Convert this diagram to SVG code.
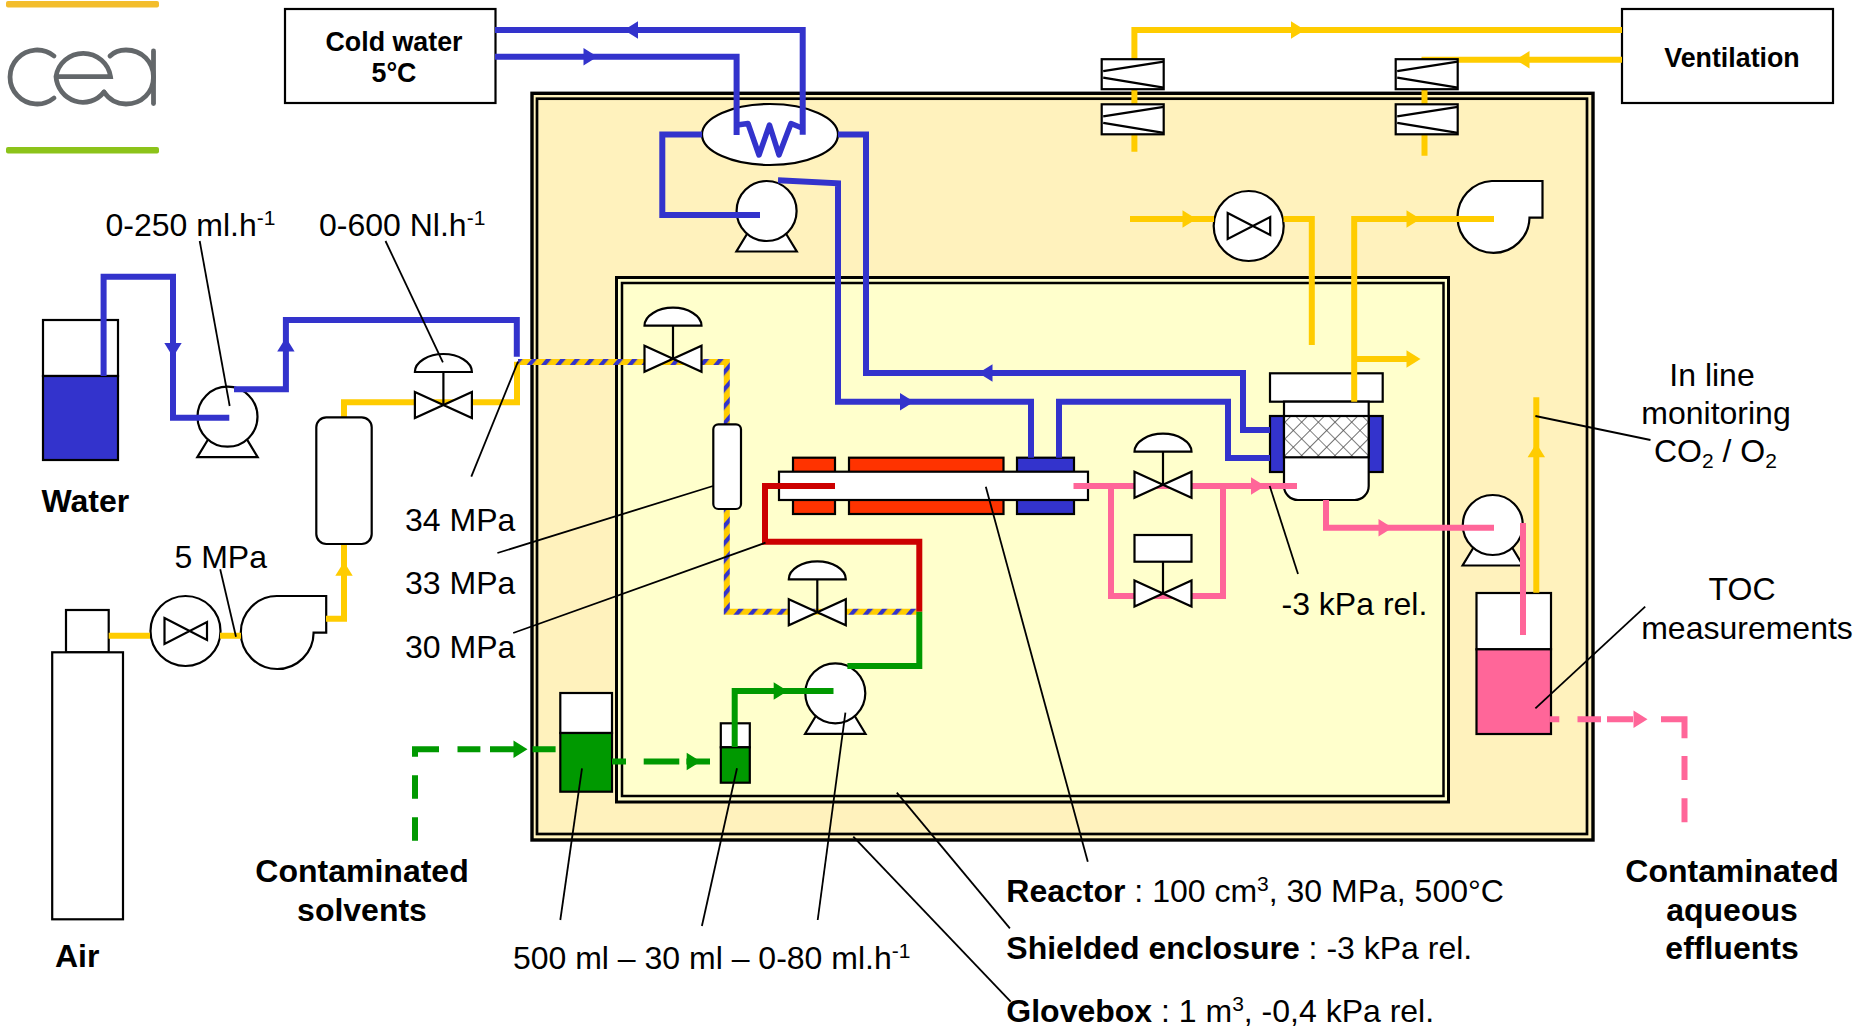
<svg xmlns="http://www.w3.org/2000/svg" width="1862" height="1027" viewBox="0 0 1862 1027">
<style>
.s{fill:#fff;stroke:#000;stroke-width:2.2;stroke-linejoin:miter}
.n{fill:none;stroke:#000;stroke-width:2.2}
.p{fill:none;stroke-width:6;stroke-linejoin:miter;stroke-linecap:butt}
.w{stroke-linejoin:round;stroke-linecap:round;stroke-width:5.500}
.bl{stroke:#33c}.ye{stroke:#fc0}.pk{stroke:#f69}.rd{stroke:#c00}.gr{stroke:#090}
.fb{fill:#33c}.fy{fill:#fc0}.fp{fill:#f69}.fg{fill:#090}.fo{fill:#f30}
.l{stroke:#000;stroke-width:1.8;fill:none}
text{font-family:"Liberation Sans",Arial,sans-serif;font-size:32px;fill:#000}
.b{font-weight:700}
.m{text-anchor:middle}
.bx{font-size:26.800px;font-weight:700;text-anchor:middle}
.u{font-size:21px}
</style>
<defs>
<pattern id="stripe" width="11" height="11" patternUnits="userSpaceOnUse" patternTransform="rotate(40)"><rect width="11" height="11" fill="#fc0"/><rect width="4.200" height="11" fill="#33c"/></pattern>
<pattern id="hatch" width="11.800" height="11.800" patternUnits="userSpaceOnUse" patternTransform="rotate(45) translate(3 3)"><rect width="11.800" height="11.800" fill="#fff"/><path d="M0 0H11.800M0 0V11.800" stroke="#555" stroke-width="1.700" fill="none"/></pattern>
<polygon id="arr" points="-7,-8.7 7,0 -7,8.7"/>
<g id="pump"><polygon class="s" points="-19,22 -30.2,40.5 30.2,40.5 19,22"/><ellipse class="s" cx="0" cy="0" rx="30" ry="30"/></g>
<g id="valve"><polygon class="s" points="-28.5,-13 28.5,13 28.5,-13 -28.5,13"/></g>
<g id="dome"><path class="s" d="M-28.5,-33H28.5C28.5,-43 15,-51 0,-51C-15,-51 -28.5,-43 -28.5,-33Z"/><path class="n" d="M0,-33V0"/></g>
<g id="filter"><rect class="s" x="-31" y="-15" width="62" height="30"/><path class="n" d="M-29.5,-3 L31,-12.5 M-29.5,3.5 L31,13.5"/></g>
<g id="ball"><ellipse class="s" cx="0" cy="0" rx="35" ry="35"/><path class="n" d="M-21,-13 L21.500,9 V-9 L-21,13Z"/></g>
</defs>

<g id="logo">
<rect x="6" y="1" width="153" height="6.500" rx="2" fill="#f3bd2c"/>
<rect x="6" y="147" width="153" height="6.500" rx="2" fill="#8cc31a"/>
<g fill="none" stroke="#63676a" stroke-width="4.800" stroke-linecap="round">
<path d="M54,56 A27,27 0 1 0 54,98"/>
<path d="M56,76.700 H110.500 A27.500,27 0 0 0 56,76.700 A27,27.500 0 0 0 104,92"/>
<path d="M104,92 A27,27 0 0 0 126,104 C142,104 153.500,92 153.500,77 C153.500,62 142,50 126,50 C120,50 114,52 110,56"/>
<path d="M153.500,51 V103.500"/>
</g>
</g>

<g id="glovebox">
<rect x="532" y="93.300" width="1061" height="746.700" fill="#fff2bd" stroke="#000" stroke-width="3.400"/>
<rect x="537" y="98.700" width="1050" height="735.300" fill="#fff2bd" stroke="#000" stroke-width="2.700"/>
</g>
<g id="enclosure">
<rect x="616.500" y="277.500" width="832" height="524.500" fill="#ffffcc" stroke="#000" stroke-width="3"/>
<rect x="622" y="283" width="821.500" height="513" fill="#ffffcc" stroke="#000" stroke-width="2.500"/>
</g>

<g id="cold-water"><rect class="s" x="285" y="9" width="210.500" height="94"/><text class="bx" x="394" y="50.500">Cold water</text><text class="bx" x="394" y="82">5°C</text></g>
<g id="ventilation"><rect class="s" x="1622" y="9" width="211" height="94"/><text class="bx" x="1732" y="66.500">Ventilation</text></g>

<g id="water-tank"><rect class="s" x="43" y="320" width="75" height="56"/><rect x="43" y="376" width="75" height="84" class="fb" stroke="#000" stroke-width="2.200"/></g>
<g id="air-cylinder"><rect class="s" x="66" y="610" width="42.700" height="42.300"/><rect class="s" x="52.200" y="652.300" width="70.800" height="267"/></g>
<g id="solvent-tank"><rect class="s" x="560.300" y="693" width="51.700" height="40"/><rect x="560.300" y="733" width="51.700" height="58.700" class="fg" stroke="#000" stroke-width="2.200"/></g>
<g id="solvent-tank-small"><rect class="s" x="720.800" y="723.300" width="29" height="24"/><rect x="720.800" y="747.300" width="29" height="35.400" class="fg" stroke="#000" stroke-width="2.200"/></g>
<g id="effluent-tank"><rect class="s" x="1476.500" y="593" width="74.500" height="56.300"/><rect x="1476.500" y="649.300" width="74.500" height="84.700" class="fp" stroke="#000" stroke-width="2.200"/></g>

<g id="pump-water"><use href="#pump" x="227.500" y="416.700"/></g>
<g id="pump-cooling"><use href="#pump" x="766.600" y="211"/></g>
<g id="pump-solvent"><use href="#pump" x="835.300" y="693.300"/></g>
<g id="pump-effluent"><use href="#pump" x="1492.800" y="525"/></g>
<g id="heat-exchanger"><ellipse class="s" cx="770" cy="134.500" rx="68" ry="30.500"/></g>
<g id="compressor"><path class="s" d="M276.800,596H326.200V632.700H313.600A36.400,36.500 0 1 1 276.800,596Z"/></g>
<g id="fan"><path class="s" d="M1491.800,181H1542.500V217.700H1529.500A36,36 0 1 1 1491.800,181Z"/></g>
<g id="air-meter"><use href="#ball" x="185.500" y="631"/></g>
<g id="vent-meter"><use href="#ball" x="1248.700" y="226"/></g>

<g id="reactor">
<rect x="793" y="457.700" width="42" height="56.300" class="fo" stroke="#000" stroke-width="2.200"/>
<rect x="849" y="457.700" width="154.500" height="56.300" class="fo" stroke="#000" stroke-width="2.200"/>
<rect x="1017" y="457.700" width="57" height="56.300" class="fb" stroke="#000" stroke-width="2.200"/>
<rect class="s" x="779" y="471.700" width="309" height="28.300"/>
</g>
<g id="separator">
<rect x="1270" y="416" width="112.700" height="56" class="fb" stroke="#000" stroke-width="2.200"/>
<rect class="s" x="1270" y="373.300" width="112.700" height="28.400"/>
<path class="s" d="M1284,401.700H1368.700V486A14,14 0 0 1 1354.700,500H1298A14,14 0 0 1 1284,486Z"/>
<rect x="1284" y="416" width="84.700" height="41.300" fill="url(#hatch)" stroke="#000" stroke-width="2.200"/>
</g>

<g id="connectors">
<path class="p bl" d="M103.600,376V276.700H173V417.700H229.300"/>
<path class="p bl" d="M234,389.300H285.900V320H516.800V356.700"/>
<path class="p bl" d="M495,30H802.700V134.700"/>
<path class="p bl" d="M495,56.700H736.600V135"/>
<path class="p bl w" d="M737,125L748,123.500L759,155L769.500,125L779,155L791,123.500L802,128"/>
<path class="p bl" d="M702,134.500H662.300V215H760"/>
<path class="p bl" d="M778,180.300L838,183.300V401.700H1031V457.700"/>
<path class="p bl" d="M838,134.500H866V373H1243V430H1270"/>
<path class="p bl" d="M1059,457.700V401.700H1228V458H1270"/>
<path class="p ye" d="M517,361.700V402.300H344V417.300"/>
<path class="p ye" d="M108.700,635.700H150M220,635.700H241"/>
<path class="p ye" d="M326,618.700H344V544"/>
<path class="p" stroke="url(#stripe)" d="M518,362H726.800V611.700H916.600"/>
<path class="p rd" d="M835,486H765V541.700H919.300V611.700"/>
<path class="p gr" d="M847.400,666H919.300V611.700"/>
<path class="p gr" d="M734.700,747V691H833.500"/>
<path class="p gr" d="M415,840.700V817.300M415,798.700V775.300M415,756.700V749.300H439M457.500,749.300H480.400M490,749.300H514M532.600,749.300H555.600"/>
<path class="p gr" d="M612,761.500H626M643.700,761.500H679.300M686.400,761.500H710"/>
<path class="p pk" d="M1073.500,486H1297"/>
<path class="p pk" d="M1111,486V596H1223V486"/>
<path class="p pk" d="M1326,500V527.700H1494"/>
<path class="p pk" d="M1523,523V635"/>
<path class="p pk" d="M1549.500,719.300H1559.300M1577.500,719.300H1601M1607,719.300H1633M1661,719.300H1684.500V738.300M1684.500,756V780M1684.500,798.300V822.300"/>
<path class="p ye" d="M1622,30H1134.400V151.700"/>
<path class="p ye" d="M1622,59.700H1424.500V155.700"/>
<path class="p ye" d="M1130,219H1214M1283.500,219H1311.800V345"/>
<path class="p ye" d="M1354.200,401.700V219H1494"/>
<path class="p ye" d="M1354,359H1407"/>
<path class="p ye" d="M1536.300,397.300V592.700"/>
<use href="#arr" class="fb" transform="translate(631,30) rotate(180)"/>
<use href="#arr" class="fb" transform="translate(590.500,56.700)"/>
<use href="#arr" class="fb" transform="translate(173,350) rotate(90)"/>
<use href="#arr" class="fb" transform="translate(285.900,344.500) rotate(-90)"/>
<use href="#arr" class="fb" transform="translate(907,401.700)"/>
<use href="#arr" class="fb" transform="translate(985.500,373) rotate(180)"/>
<use href="#arr" class="fy" transform="translate(344,568.700) rotate(-90)"/>
<use href="#arr" class="fy" transform="translate(1298,30)"/>
<use href="#arr" class="fy" transform="translate(1522.500,59.700) rotate(180)"/>
<use href="#arr" class="fy" transform="translate(1189.500,219)"/>
<use href="#arr" class="fy" transform="translate(1413.500,219)"/>
<use href="#arr" class="fy" transform="translate(1413.500,359)"/>
<use href="#arr" class="fy" transform="translate(1536.300,450.300) rotate(-90)"/>
<use href="#arr" class="fp" transform="translate(1258,486)"/>
<use href="#arr" class="fp" transform="translate(1385.500,527.700)"/>
<use href="#arr" class="fp" transform="translate(1640.500,719.300)"/>
<use href="#arr" class="fg" transform="translate(520.500,749.300)"/>
<use href="#arr" class="fg" transform="translate(693.700,761.500)"/>
<use href="#arr" class="fg" transform="translate(780.700,691)"/>
</g>

<g id="air-vessel"><rect class="s" x="316.300" y="417.300" width="55.400" height="126.700" rx="10"/></g>
<g id="mix-vessel"><rect class="s" x="713.300" y="424.300" width="27.700" height="84.700" rx="5"/></g>
<g id="valve-air"><use href="#valve" x="443.400" y="405"/><use href="#dome" x="443.400" y="405"/></g>
<g id="valve-mix-top"><use href="#valve" x="673" y="358.700"/><use href="#dome" x="673" y="358.700"/></g>
<g id="valve-mix-bottom"><use href="#valve" x="817.300" y="612.300"/><use href="#dome" x="817.300" y="612.300"/></g>
<g id="valve-outlet"><use href="#valve" x="1163" y="484.700"/><use href="#dome" x="1163" y="484.700"/></g>
<g id="valve-bypass"><use href="#valve" x="1163" y="593.500"/><path class="n" d="M1163,561V593"/><rect class="s" x="1134.500" y="535" width="57" height="26.700"/></g>
<g id="filter-1"><use href="#filter" x="1132.700" y="74.200"/></g>
<g id="filter-2"><use href="#filter" x="1132.700" y="119.300"/></g>
<g id="filter-3"><use href="#filter" x="1426.700" y="74.200"/></g>
<g id="filter-4"><use href="#filter" x="1426.700" y="119.300"/></g>

<g id="leaders">
<path class="l" d="M199.700,241L229.700,406"/>
<path class="l" d="M385.500,241L442.900,362.300"/>
<path class="l" d="M518,361.700L471.300,476.700"/>
<path class="l" d="M497.400,553L713,486"/>
<path class="l" d="M513.200,633L765.500,542.700"/>
<path class="l" d="M220.200,569.300L236,636.700"/>
<path class="l" d="M560.300,920L582,768.300"/>
<path class="l" d="M701.900,926L737,768.300"/>
<path class="l" d="M817.700,920L845.400,712.700"/>
<path class="l" d="M985.800,486.700L1087.800,861.700"/>
<path class="l" d="M896.800,792.700L1009.900,928.300"/>
<path class="l" d="M853.300,836.700L1010.700,1001.700"/>
<path class="l" d="M1269.700,486L1298,574"/>
<path class="l" d="M1535.400,416L1650.500,440"/>
<path class="l" d="M1535.400,708.300L1645.200,606.700"/>
</g>

<g id="labels">
<text x="105.500" y="235.500">0-250 ml.h<tspan class="u" dy="-11">-1</tspan></text>
<text x="319" y="235.500">0-600 Nl.h<tspan class="u" dy="-11">-1</tspan></text>
<text class="b" x="41.500" y="511.500">Water</text>
<text x="405" y="530.500">34 MPa</text>
<text x="405" y="593.500">33 MPa</text>
<text x="405" y="657.500">30 MPa</text>
<text x="174.500" y="568">5 MPa</text>
<text class="b" x="55" y="966.500">Air</text>
<text class="b m" x="362" y="882">Contaminated</text>
<text class="b m" x="362" y="921">solvents</text>
<text x="512.900" y="968.500">500 ml – 30 ml – 0-80 ml.h<tspan class="u" dy="-11">-1</tspan></text>
<text x="1006.300" y="901.500"><tspan class="b">Reactor</tspan> : 100 cm<tspan class="u" dy="-11">3</tspan><tspan dy="11">, 30 MPa, 500°C</tspan></text>
<text x="1006.300" y="958.500"><tspan class="b">Shielded enclosure</tspan> : -3 kPa rel.</text>
<text x="1006.300" y="1022"><tspan class="b">Glovebox</tspan> : 1 m<tspan class="u" dy="-11">3</tspan><tspan dy="11">, -0,4 kPa rel.</tspan></text>
<text x="1281.500" y="614.500">-3 kPa rel.</text>
<text class="m" x="1712" y="386">In line</text>
<text class="m" x="1716" y="423.500">monitoring</text>
<text x="1654" y="462">CO<tspan class="u" dy="6">2</tspan><tspan dy="-6"> / O</tspan><tspan class="u" dy="6">2</tspan></text>
<text class="m" x="1742" y="599.500">TOC</text>
<text class="m" x="1747" y="638.500">measurements</text>
<text class="b m" x="1732" y="882">Contaminated</text>
<text class="b m" x="1732" y="921">aqueous</text>
<text class="b m" x="1732" y="958.500">effluents</text>
</g>
</svg>
